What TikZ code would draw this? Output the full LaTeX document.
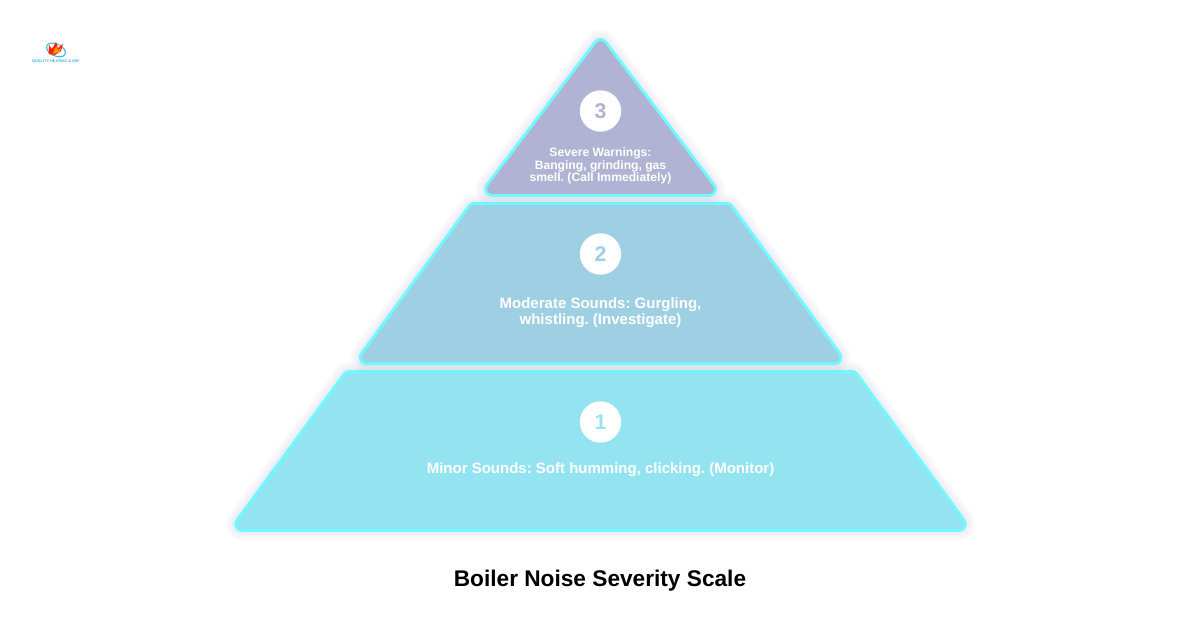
\documentclass[tikz,border=0pt]{standalone}
\usepackage{fontspec}
\setmainfont{Liberation Sans}
\usetikzlibrary{calc}
\definecolor{edgecyan}{HTML}{70FAFF}
\definecolor{tierA}{HTML}{93E3F0}
\definecolor{tierB}{HTML}{9FCFE3}
\definecolor{tierC}{HTML}{B0B3D3}
\definecolor{glowc}{HTML}{8A8CC0}
\definecolor{logoblue}{HTML}{3FB4E0}
\tikzset{
  tieredge/.style={line width=12pt,draw=edgecyan,fill=edgecyan,line join=round},
  tierfill/.style={line width=7.4pt,line join=round},
  glowline/.style={draw=glowc,draw opacity=0.028,line join=round},
  badge/.style={circle,fill=white,minimum size=31pt,inner sep=0pt,font=\bfseries\fontsize{16}{16}\selectfont},
  lbl/.style={text=white,align=center,font=\bfseries\fontsize{11.25}{12}\selectfont},
  lblsmall/.style={text=white,align=center,font=\bfseries\fontsize{9.1}{9.2}\selectfont},
  titletext/.style={text=black,font=\bfseries\fontsize{17}{17}\selectfont},
  logotext/.style={text=logoblue,font=\bfseries\fontsize{2.9}{3}\selectfont}
}
\newcommand{\tierdraw}[2]{%
  \foreach \w in {25,22,19,17,15}{\draw[glowline,line width=\w pt] #1;}%
  \filldraw[tieredge] #1;%
  \filldraw[tierfill,draw=#2,fill=#2] #1;%
}
\frenchspacing
\begin{document}
\begin{tikzpicture}[x=0.75pt,y=-0.75pt]
\useasboundingbox (0,0) rectangle (1200,630);
\fill[white] (0,0) rectangle (1200,630);
% logo
\draw[logoblue,line width=0.8pt,rotate around={-25:(56,50)}] (56,50) ellipse (10 and 6);
\fill[red!75!orange] (48.5,54) -- (49,45) -- (52,49) -- (56,42) -- (58,48) -- (63,44) -- (61,51) -- (55,55) -- cycle;
\fill[orange!85!yellow] (53,54) -- (54.5,49) -- (57,46) -- (58,50.5) -- (61,47.5) -- (59.5,52) -- cycle;
\node[logotext,inner sep=0pt] (logo) at (55.5,62) {QUALITY HEATING \& AIR};
% tiers
\tierdraw{(242.2,524) -- (349.3,378) -- (851.7,378) -- (958.8,524) -- cycle}{tierA}
\tierdraw{(366.6,357.5) -- (474.3,210) -- (726.7,210) -- (834.4,357.5) -- cycle}{tierB}
\tierdraw{(492,189) -- (600.5,46) -- (709,189) -- cycle}{tierC}
\node[badge,text=tierA] (n1) at (600.5,422) {1};
\node[badge,text=tierB] (n2) at (600.5,254) {2};
\node[badge,text=tierC] (n3) at (600.5,111) {3};
\node[lbl] (t1) at (600.5,469.5) {Minor Sounds: Soft humming, clicking. (Monitor)};
\node[lbl] (t2) at (600.5,313) {Moderate Sounds: Gurgling,\\whistling. (Investigate)};
\node[lblsmall] (t3) at (600.5,166) {Severe Warnings:\\Banging, grinding, gas\\smell. (Call Immediately)};
\node[titletext] (title) at (600,581) {Boiler Noise Severity Scale};
\end{tikzpicture}
\end{document}
